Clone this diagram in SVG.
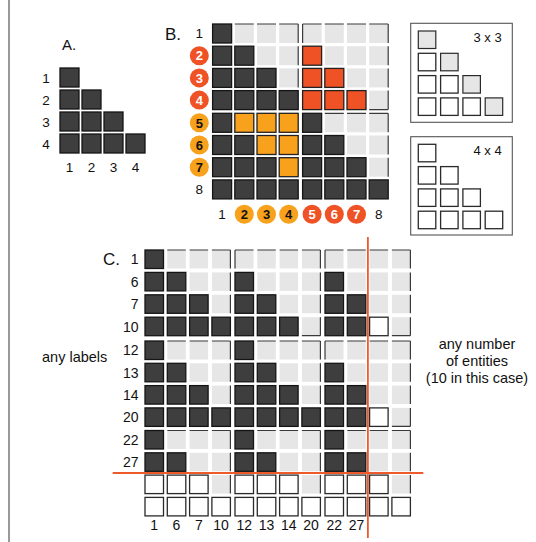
<svg xmlns="http://www.w3.org/2000/svg" xmlns:xlink="http://www.w3.org/1999/xlink" width="536" height="542" viewBox="0 0 536 542">
<style>
text{font-family:"Liberation Sans",Arial,sans-serif;fill:#111}
.d{fill:#3e3e3e;stroke:#151515;stroke-width:1.3}
.l{fill:#e6e6e6}
.w{fill:#fff;stroke:#2a2a2a;stroke-width:1.3}
.o{fill:#f7a11c;stroke:#222;stroke-width:1.3}
.r{fill:#ef5224;stroke:#222;stroke-width:1.3}
.g{fill:#e6e6e6;stroke:#2a2a2a;stroke-width:1.2}
.edge{fill:none;stroke:#3a3a3a;stroke-width:1.2}
.lab{font-size:13.5px}
.clab{font-size:14px}
.cr{fill:#ef5224}
.co{fill:#f7a11c}
.ct{font-size:13px;font-weight:bold;text-anchor:middle}
.red{stroke:#ef5a2c;stroke-width:1.8;fill:none}
</style>
<defs>
<rect id="aD" width="19" height="19" class="d"/>
<rect id="bD" width="19" height="19" class="d"/>
<rect id="bL" width="19" height="19" class="l"/>
<rect id="bO" width="19" height="19" class="o"/>
<rect id="bR" width="19" height="19" class="r"/>
<rect id="cD" width="18.5" height="18.5" class="d"/>
<rect id="cL" width="18.5" height="18.5" class="l"/>
<rect id="cW" width="18.5" height="18.5" class="w"/>
<rect id="gL" width="17.5" height="17.5" class="g"/>
<rect id="gW" width="17.5" height="17.5" class="w"/>
</defs>
<line x1="9" y1="0" x2="9" y2="542" stroke="#777" stroke-width="1.5"/>

<g id="panelA">
<text x="62" y="50" style="font-size:15px">A.</text>
<use href="#aD" x="60" y="68"/>
<use href="#aD" x="60" y="90"/><use href="#aD" x="82" y="90"/>
<use href="#aD" x="60" y="112"/><use href="#aD" x="82" y="112"/><use href="#aD" x="104" y="112"/>
<use href="#aD" x="60" y="134"/><use href="#aD" x="82" y="134"/><use href="#aD" x="104" y="134"/><use href="#aD" x="126" y="134"/>
<g class="lab" text-anchor="middle">
<text x="46" y="82.5">1</text><text x="46" y="104.5">2</text><text x="46" y="126.5">3</text><text x="46" y="148.5">4</text>
<text x="69.5" y="172">1</text><text x="91.5" y="172">2</text><text x="113.5" y="172">3</text><text x="135.5" y="172">4</text>
</g>
</g>

<g id="panelB">
<text x="165" y="40" style="font-size:17px">B.</text>
<!-- row 1 -->
<use href="#bD" x="212.6" y="24"/><use href="#bL" x="234.8" y="24"/><use href="#bL" x="257" y="24"/><use href="#bL" x="279.2" y="24"/>
<use href="#bL" x="302.6" y="24"/><use href="#bL" x="324.8" y="24"/><use href="#bL" x="347" y="24"/><use href="#bL" x="369.2" y="24"/>
<!-- row 2 -->
<use href="#bD" x="212.6" y="46.2"/><use href="#bD" x="234.8" y="46.2"/><use href="#bL" x="257" y="46.2"/><use href="#bL" x="279.2" y="46.2"/>
<use href="#bR" x="302.6" y="46.2"/><use href="#bL" x="324.8" y="46.2"/><use href="#bL" x="347" y="46.2"/><use href="#bL" x="369.2" y="46.2"/>
<!-- row 3 -->
<use href="#bD" x="212.6" y="68.4"/><use href="#bD" x="234.8" y="68.4"/><use href="#bD" x="257" y="68.4"/><use href="#bL" x="279.2" y="68.4"/>
<use href="#bR" x="302.6" y="68.4"/><use href="#bR" x="324.8" y="68.4"/><use href="#bL" x="347" y="68.4"/><use href="#bL" x="369.2" y="68.4"/>
<!-- row 4 -->
<use href="#bD" x="212.6" y="90.6"/><use href="#bD" x="234.8" y="90.6"/><use href="#bD" x="257" y="90.6"/><use href="#bD" x="279.2" y="90.6"/>
<use href="#bR" x="302.6" y="90.6"/><use href="#bR" x="324.8" y="90.6"/><use href="#bR" x="347" y="90.6"/><use href="#bL" x="369.2" y="90.6"/>
<!-- row 5 -->
<use href="#bD" x="212.6" y="113.3"/><use href="#bO" x="234.8" y="113.3"/><use href="#bO" x="257" y="113.3"/><use href="#bO" x="279.2" y="113.3"/>
<use href="#bD" x="302.6" y="113.3"/><use href="#bL" x="324.8" y="113.3"/><use href="#bL" x="347" y="113.3"/><use href="#bL" x="369.2" y="113.3"/>
<!-- row 6 -->
<use href="#bD" x="212.6" y="135.5"/><use href="#bD" x="234.8" y="135.5"/><use href="#bO" x="257" y="135.5"/><use href="#bO" x="279.2" y="135.5"/>
<use href="#bD" x="302.6" y="135.5"/><use href="#bD" x="324.8" y="135.5"/><use href="#bL" x="347" y="135.5"/><use href="#bL" x="369.2" y="135.5"/>
<!-- row 7 -->
<use href="#bD" x="212.6" y="157.7"/><use href="#bD" x="234.8" y="157.7"/><use href="#bD" x="257" y="157.7"/><use href="#bO" x="279.2" y="157.7"/>
<use href="#bD" x="302.6" y="157.7"/><use href="#bD" x="324.8" y="157.7"/><use href="#bD" x="347" y="157.7"/><use href="#bL" x="369.2" y="157.7"/>
<!-- row 8 -->
<use href="#bD" x="212.6" y="179.9"/><use href="#bD" x="234.8" y="179.9"/><use href="#bD" x="257" y="179.9"/><use href="#bD" x="279.2" y="179.9"/>
<use href="#bD" x="302.6" y="179.9"/><use href="#bD" x="324.8" y="179.9"/><use href="#bD" x="347" y="179.9"/><use href="#bD" x="369.2" y="179.9"/>
<path class="edge" d="M234.8 24h19M257 24h19M279.2 24h19M302.6 24h19M324.8 24h19M347 24h19M369.2 24h19M298.2 24v19M298.2 46.2v19M298.2 68.4v19M302.6 24v19M388.2 24v19M388.2 46.2v19M388.2 68.4v19M388.2 90.6v19M369.2 109.6h19M324.8 113.3h19M347 113.3h19M369.2 113.3h19M388.2 113.3v19M388.2 135.5v19M388.2 157.7v19"/>
<!-- row labels -->
<text class="lab" x="199.3" y="38.3" text-anchor="middle">1</text>
<circle class="cr" cx="199.3" cy="55.7" r="9.5"/><text class="ct" x="199.3" y="60.4" style="fill:#fff">2</text>
<circle class="cr" cx="199.3" cy="77.9" r="9.5"/><text class="ct" x="199.3" y="82.6" style="fill:#fff">3</text>
<circle class="cr" cx="199.3" cy="100.1" r="9.5"/><text class="ct" x="199.3" y="104.8" style="fill:#fff">4</text>
<circle class="co" cx="199.3" cy="122.8" r="9.5"/><text class="ct" x="199.3" y="127.5">5</text>
<circle class="co" cx="199.3" cy="145" r="9.5"/><text class="ct" x="199.3" y="149.7">6</text>
<circle class="co" cx="199.3" cy="167.2" r="9.5"/><text class="ct" x="199.3" y="171.9">7</text>
<text class="lab" x="199.3" y="194.3" text-anchor="middle">8</text>
<!-- column labels -->
<text class="lab" x="222.1" y="219" text-anchor="middle">1</text>
<circle class="co" cx="244.3" cy="214.3" r="9.5"/><text class="ct" x="244.3" y="219">2</text>
<circle class="co" cx="266.5" cy="214.3" r="9.5"/><text class="ct" x="266.5" y="219">3</text>
<circle class="co" cx="288.7" cy="214.3" r="9.5"/><text class="ct" x="288.7" y="219">4</text>
<circle class="cr" cx="312.1" cy="214.3" r="9.5"/><text class="ct" x="312.1" y="219" style="fill:#fff">5</text>
<circle class="cr" cx="334.3" cy="214.3" r="9.5"/><text class="ct" x="334.3" y="219" style="fill:#fff">6</text>
<circle class="cr" cx="356.5" cy="214.3" r="9.5"/><text class="ct" x="356.5" y="219" style="fill:#fff">7</text>
<text class="lab" x="378.7" y="219" text-anchor="middle">8</text>
</g>

<g id="legend3x3">
<rect x="410.7" y="23.3" width="101.6" height="99" fill="#fff" stroke="#555" stroke-width="1.1"/>
<text x="501.7" y="41.5" text-anchor="end" style="font-size:13px">3 x 3</text>
<use href="#gL" x="418.3" y="31"/>
<use href="#gW" x="418.3" y="53.3"/><use href="#gL" x="440.6" y="53.3"/>
<use href="#gW" x="418.3" y="75.6"/><use href="#gW" x="440.6" y="75.6"/><use href="#gL" x="462.9" y="75.6"/>
<use href="#gW" x="418.3" y="97.9"/><use href="#gW" x="440.6" y="97.9"/><use href="#gW" x="462.9" y="97.9"/><use href="#gL" x="485.2" y="97.9"/>
</g>
<g id="legend4x4">
<rect x="410.7" y="136.7" width="101.6" height="98.3" fill="#fff" stroke="#555" stroke-width="1.1"/>
<text x="501.7" y="154.5" text-anchor="end" style="font-size:13px">4 x 4</text>
<use href="#gW" x="418.3" y="144.3"/>
<use href="#gW" x="418.3" y="166.6"/><use href="#gW" x="440.6" y="166.6"/>
<use href="#gW" x="418.3" y="188.9"/><use href="#gW" x="440.6" y="188.9"/><use href="#gW" x="462.9" y="188.9"/>
<use href="#gW" x="418.3" y="211.2"/><use href="#gW" x="440.6" y="211.2"/><use href="#gW" x="462.9" y="211.2"/><use href="#gW" x="485.2" y="211.2"/>
</g>

<g id="panelC">
<text x="103" y="265" style="font-size:17px">C.</text>
<!-- dark -->
<use href="#cD" x="145" y="250"/>
<use href="#cD" x="145" y="272.4"/><use href="#cD" x="167.3" y="272.4"/><use href="#cD" x="235" y="272.4"/><use href="#cD" x="325" y="272.4"/>
<use href="#cD" x="145" y="294.8"/><use href="#cD" x="167.3" y="294.8"/><use href="#cD" x="189.6" y="294.8"/><use href="#cD" x="235" y="294.8"/><use href="#cD" x="257.3" y="294.8"/><use href="#cD" x="325" y="294.8"/><use href="#cD" x="347.3" y="294.8"/>
<use href="#cD" x="145" y="317.2"/><use href="#cD" x="167.3" y="317.2"/><use href="#cD" x="189.6" y="317.2"/><use href="#cD" x="211.9" y="317.2"/><use href="#cD" x="235" y="317.2"/><use href="#cD" x="257.3" y="317.2"/><use href="#cD" x="279.6" y="317.2"/><use href="#cD" x="325" y="317.2"/><use href="#cD" x="347.3" y="317.2"/>
<use href="#cD" x="145" y="341"/><use href="#cD" x="235" y="341"/>
<use href="#cD" x="145" y="363.3"/><use href="#cD" x="167.3" y="363.3"/><use href="#cD" x="235" y="363.3"/><use href="#cD" x="257.3" y="363.3"/><use href="#cD" x="325" y="363.3"/>
<use href="#cD" x="145" y="385.6"/><use href="#cD" x="167.3" y="385.6"/><use href="#cD" x="189.6" y="385.6"/><use href="#cD" x="235" y="385.6"/><use href="#cD" x="257.3" y="385.6"/><use href="#cD" x="279.6" y="385.6"/><use href="#cD" x="325" y="385.6"/><use href="#cD" x="347.3" y="385.6"/>
<use href="#cD" x="145" y="407.9"/><use href="#cD" x="167.3" y="407.9"/><use href="#cD" x="189.6" y="407.9"/><use href="#cD" x="211.9" y="407.9"/><use href="#cD" x="235" y="407.9"/><use href="#cD" x="257.3" y="407.9"/><use href="#cD" x="279.6" y="407.9"/><use href="#cD" x="301.9" y="407.9"/><use href="#cD" x="325" y="407.9"/><use href="#cD" x="347.3" y="407.9"/>
<use href="#cD" x="145" y="430.5"/><use href="#cD" x="235" y="430.5"/><use href="#cD" x="325" y="430.5"/>
<use href="#cD" x="145" y="452.8"/><use href="#cD" x="167.3" y="452.8"/><use href="#cD" x="235" y="452.8"/><use href="#cD" x="257.3" y="452.8"/><use href="#cD" x="325" y="452.8"/><use href="#cD" x="347.3" y="452.8"/>
<!-- light -->
<use href="#cL" x="167.3" y="250"/><use href="#cL" x="189.6" y="250"/><use href="#cL" x="211.9" y="250"/><use href="#cL" x="235" y="250"/><use href="#cL" x="257.3" y="250"/><use href="#cL" x="279.6" y="250"/><use href="#cL" x="301.9" y="250"/><use href="#cL" x="325" y="250"/><use href="#cL" x="347.3" y="250"/><use href="#cL" x="369.6" y="250"/><use href="#cL" x="391.9" y="250"/>
<use href="#cL" x="189.6" y="272.4"/><use href="#cL" x="211.9" y="272.4"/><use href="#cL" x="257.3" y="272.4"/><use href="#cL" x="279.6" y="272.4"/><use href="#cL" x="301.9" y="272.4"/><use href="#cL" x="347.3" y="272.4"/><use href="#cL" x="369.6" y="272.4"/><use href="#cL" x="391.9" y="272.4"/>
<use href="#cL" x="211.9" y="294.8"/><use href="#cL" x="279.6" y="294.8"/><use href="#cL" x="301.9" y="294.8"/><use href="#cL" x="369.6" y="294.8"/><use href="#cL" x="391.9" y="294.8"/>
<use href="#cL" x="301.9" y="317.2"/><use href="#cL" x="391.9" y="317.2"/>
<use href="#cL" x="167.3" y="341"/><use href="#cL" x="189.6" y="341"/><use href="#cL" x="211.9" y="341"/><use href="#cL" x="257.3" y="341"/><use href="#cL" x="279.6" y="341"/><use href="#cL" x="301.9" y="341"/><use href="#cL" x="325" y="341"/><use href="#cL" x="347.3" y="341"/><use href="#cL" x="369.6" y="341"/><use href="#cL" x="391.9" y="341"/>
<use href="#cL" x="189.6" y="363.3"/><use href="#cL" x="211.9" y="363.3"/><use href="#cL" x="279.6" y="363.3"/><use href="#cL" x="301.9" y="363.3"/><use href="#cL" x="347.3" y="363.3"/><use href="#cL" x="369.6" y="363.3"/><use href="#cL" x="391.9" y="363.3"/>
<use href="#cL" x="211.9" y="385.6"/><use href="#cL" x="301.9" y="385.6"/><use href="#cL" x="369.6" y="385.6"/><use href="#cL" x="391.9" y="385.6"/>
<use href="#cL" x="391.9" y="407.9"/>
<use href="#cL" x="167.3" y="430.5"/><use href="#cL" x="189.6" y="430.5"/><use href="#cL" x="211.9" y="430.5"/><use href="#cL" x="257.3" y="430.5"/><use href="#cL" x="279.6" y="430.5"/><use href="#cL" x="301.9" y="430.5"/><use href="#cL" x="347.3" y="430.5"/><use href="#cL" x="369.6" y="430.5"/><use href="#cL" x="391.9" y="430.5"/>
<use href="#cL" x="189.6" y="452.8"/><use href="#cL" x="211.9" y="452.8"/><use href="#cL" x="279.6" y="452.8"/><use href="#cL" x="301.9" y="452.8"/><use href="#cL" x="369.6" y="452.8"/><use href="#cL" x="391.9" y="452.8"/>
<use href="#cL" x="211.9" y="475.1"/><use href="#cL" x="301.9" y="475.1"/><use href="#cL" x="391.9" y="475.1"/>
<!-- white -->
<use href="#cW" x="369.6" y="317.2"/><use href="#cW" x="369.6" y="407.9"/>
<use href="#cW" x="145" y="475.1"/><use href="#cW" x="167.3" y="475.1"/><use href="#cW" x="189.6" y="475.1"/><use href="#cW" x="235" y="475.1"/><use href="#cW" x="257.3" y="475.1"/><use href="#cW" x="279.6" y="475.1"/><use href="#cW" x="325" y="475.1"/><use href="#cW" x="347.3" y="475.1"/><use href="#cW" x="369.6" y="475.1"/>
<use href="#cW" x="145" y="497.4"/><use href="#cW" x="167.3" y="497.4"/><use href="#cW" x="189.6" y="497.4"/><use href="#cW" x="211.9" y="497.4"/><use href="#cW" x="235" y="497.4"/><use href="#cW" x="257.3" y="497.4"/><use href="#cW" x="279.6" y="497.4"/><use href="#cW" x="301.9" y="497.4"/><use href="#cW" x="325" y="497.4"/><use href="#cW" x="347.3" y="497.4"/><use href="#cW" x="369.6" y="497.4"/><use href="#cW" x="391.9" y="497.4"/>
<path class="edge" d="M167.3 250h18.5M189.6 250h18.5M211.9 250h18.5M230.4 250v18.5M230.4 272.4v18.5M230.4 294.8v18.5M235 250h18.5M257.3 250h18.5M279.6 250h18.5M301.9 250h18.5M235 250v18.5M320.4 250v18.5M320.4 272.4v18.5M320.4 294.8v18.5M320.4 317.2v18.5M301.9 335.7h18.5M325 250h18.5M347.3 250h18.5M369.6 250h18.5M391.9 250h18.5M325 250v18.5M410.4 250v18.5M410.4 272.4v18.5M410.4 294.8v18.5M410.4 317.2v18.5M391.9 335.7h18.5M167.3 341h18.5M189.6 341h18.5M211.9 341h18.5M230.4 341v18.5M230.4 363.3v18.5M230.4 385.6v18.5M257.3 341h18.5M279.6 341h18.5M301.9 341h18.5M320.4 341v18.5M320.4 363.3v18.5M320.4 385.6v18.5M325 341h18.5M347.3 341h18.5M369.6 341h18.5M391.9 341h18.5M325 341v18.5M410.4 341v18.5M410.4 363.3v18.5M410.4 385.6v18.5M410.4 407.9v18.5M391.9 426.4h18.5M167.3 430.5h18.5M189.6 430.5h18.5M211.9 430.5h18.5M230.4 430.5v18.5M230.4 452.8v18.5M230.4 475.1v18.5M257.3 430.5h18.5M279.6 430.5h18.5M301.9 430.5h18.5M320.4 430.5v18.5M320.4 452.8v18.5M320.4 475.1v18.5M347.3 430.5h18.5M369.6 430.5h18.5M391.9 430.5h18.5M410.4 430.5v18.5M410.4 452.8v18.5M410.4 475.1v18.5"/>
<!-- row labels -->
<g class="clab" text-anchor="end">
<text x="138.5" y="264.3">1</text><text x="138.5" y="286.7">6</text><text x="138.5" y="309.1">7</text><text x="138.5" y="331.5">10</text>
<text x="138.5" y="355.3">12</text><text x="138.5" y="377.6">13</text><text x="138.5" y="399.9">14</text><text x="138.5" y="422.2">20</text>
<text x="138.5" y="444.8">22</text><text x="138.5" y="467.1">27</text>
</g>
<g class="clab" text-anchor="middle">
<text x="154.2" y="530">1</text><text x="176.5" y="530">6</text><text x="198.8" y="530">7</text><text x="221.1" y="530">10</text>
<text x="244.2" y="530">12</text><text x="266.5" y="530">13</text><text x="288.8" y="530">14</text><text x="311.1" y="530">20</text>
<text x="334.2" y="530">22</text><text x="356.5" y="530">27</text>
</g>
<text x="42" y="362" style="font-size:14.5px">any labels</text>
<g text-anchor="middle" style="font-size:14.5px">
<text x="477" y="349">any number</text>
<text x="477" y="366">of entities</text>
<text x="477" y="383">(10 in this case)</text>
</g>
</g>

<g id="connectors">
<line class="red" x1="367.9" y1="237" x2="367.9" y2="538"/>
<line class="red" x1="112.7" y1="473" x2="423.3" y2="473"/>
</g>
</svg>
